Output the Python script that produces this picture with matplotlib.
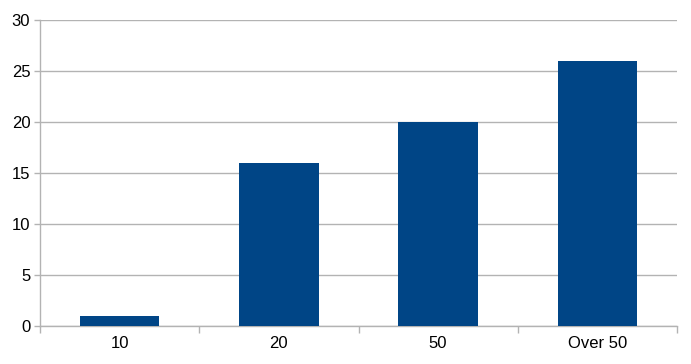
import matplotlib
matplotlib.use("Agg")
import matplotlib.pyplot as plt
import numpy as np

categories = ["10", "20", "50", "Over 50"]
values = [1, 16, 20, 26]
yticks = [0, 5, 10, 15, 20, 25, 30]

plt.rcParams['font.family'] = ['Liberation Sans', 'DejaVu Sans']

fig = plt.figure(figsize=(6.91, 3.64), dpi=100)
ax = fig.add_axes([40/691, 38/364, 637/691, 306/364])

x = np.arange(len(categories))
ax.bar(x, values, width=0.5, color="#004586", zorder=3)

ax.set_xlim(-0.5, len(categories) - 0.5)
ax.set_ylim(0, 30)
ax.set_yticks(yticks)
ax.set_yticklabels([str(v) for v in yticks], fontsize=12)
ax.yaxis.grid(True, color="#b3b3b3", linewidth=1, zorder=0)

ax.set_xticks(x)
ax.set_xticklabels(categories, fontsize=12)
ax.tick_params(axis='x', which='major', length=0, pad=7)
ax.set_xticks(np.arange(-0.5, len(categories)), minor=True)
ax.tick_params(axis='x', which='minor', length=5, color="#b3b3b3", width=1)
ax.tick_params(axis='y', length=4, color="#b3b3b3", width=1, pad=3)

for s in ['top', 'right']:
    ax.spines[s].set_visible(False)
for s in ['left', 'bottom']:
    ax.spines[s].set_color("#b3b3b3")
    ax.spines[s].set_linewidth(1)

fig.savefig("out.png", dpi=100)
